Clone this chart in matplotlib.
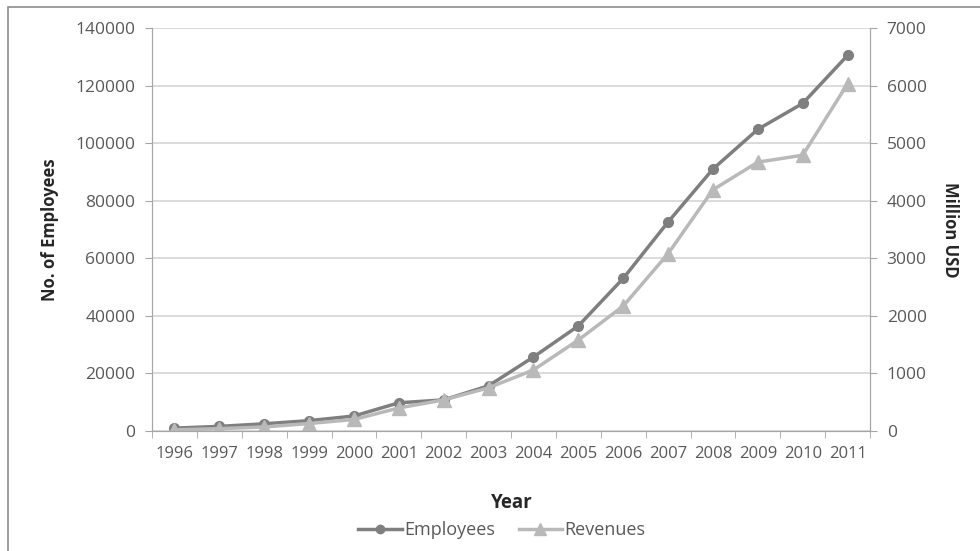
"""Employees and revenues by year, dual axis line chart."""

import matplotlib

matplotlib.use("Agg")

import matplotlib.pyplot as plt
from matplotlib.lines import Line2D
from matplotlib.patches import Rectangle

years = ["1996", "1997", "1998", "1999", "2000", "2001", "2002", "2003",
         "2004", "2005", "2006", "2007", "2008", "2009", "2010", "2011"]
employees = [1000, 1600, 2500, 3600, 5200, 9800, 10800, 15700,
             25700, 36500, 53000, 72600, 91000, 104800, 113800, 130500]
revenues = [20, 40, 70, 130, 200, 400, 540, 750,
            1060, 1580, 2170, 3080, 4190, 4670, 4790, 6030]

EMP_COLOR = "#7F7F7F"
REV_COLOR = "#B9B9B9"
TEXT = "#595959"
GRID = "#D4D4D4"

plt.rcParams["font.family"] = ["Open Sans", "DejaVu Sans"]

fig = plt.figure(figsize=(9.8, 5.51), dpi=100)
W, H = 980, 551
ax = fig.add_axes([152 / W, 1 - 431 / H, (870 - 152) / W, (431 - 28) / H])
ax2 = ax.twinx()

x = list(range(len(years)))
ax.plot(x, employees, color=EMP_COLOR, lw=2.5, marker="o", ms=7, zorder=3)
ax2.plot(x, revenues, color=REV_COLOR, lw=2.5, marker="^", ms=10, zorder=2)

ax.set_xlim(-0.5, len(years) - 0.5)
ax.set_ylim(0, 140000)
ax2.set_ylim(0, 7000)
ax.set_yticks(range(0, 140001, 20000))
ax2.set_yticks(range(0, 7001, 1000))
ax.set_xticks(x, years)
ax.set_xticks([i - 0.5 for i in range(len(years) + 1)], minor=True)
ax.tick_params(axis="x", which="major", length=0, pad=11)
ax.tick_params(axis="x", which="minor", length=5, color="#A6A6A6")
for a in (ax, ax2):
    a.tick_params(axis="y", length=5, color="#A6A6A6", labelsize=12.5, labelcolor=TEXT, pad=7)
ax.tick_params(axis="x", labelsize=12, labelcolor=TEXT)

ax.grid(axis="y", color=GRID, lw=1.2)
ax.set_axisbelow(True)
for a in (ax, ax2):
    a.spines["top"].set_visible(False)
    for s in ("left", "right", "bottom"):
        a.spines[s].set_color("#A6A6A6")

fig.text(50 / W, 1 - 230 / H, "No. of Employees", rotation=90, ha="center", va="center",
         fontsize=12, fontweight="bold", color="#262626")
fig.text(950 / W, 1 - 230 / H, "Million USD", rotation=-90, ha="center", va="center",
         fontsize=12, fontweight="bold", color="#262626")
fig.text(512 / W, 1 - 503 / H, "Year", ha="center", va="center",
         fontsize=13.5, fontweight="bold", color="#262626")

handles = [
    Line2D([], [], color=EMP_COLOR, lw=2.5, marker="o", ms=6),
    Line2D([], [], color=REV_COLOR, lw=2.5, marker="^", ms=8),
]
fig.legend(handles, ["Employees", "Revenues"], loc="center", bbox_to_anchor=(502 / W, 1 - 530 / H),
           ncol=2, frameon=False, fontsize=13, labelcolor=TEXT, handlelength=2.4,
           handletextpad=0.15, columnspacing=1.3, borderpad=0, borderaxespad=0)

fig.patches.append(Rectangle((8 / W, -0.1), 1.2, 1 - 7 / H + 0.1, transform=fig.transFigure,
                             fill=False, edgecolor="#8C8C8C", lw=1.2))

fig.savefig("out.png", dpi=100)
